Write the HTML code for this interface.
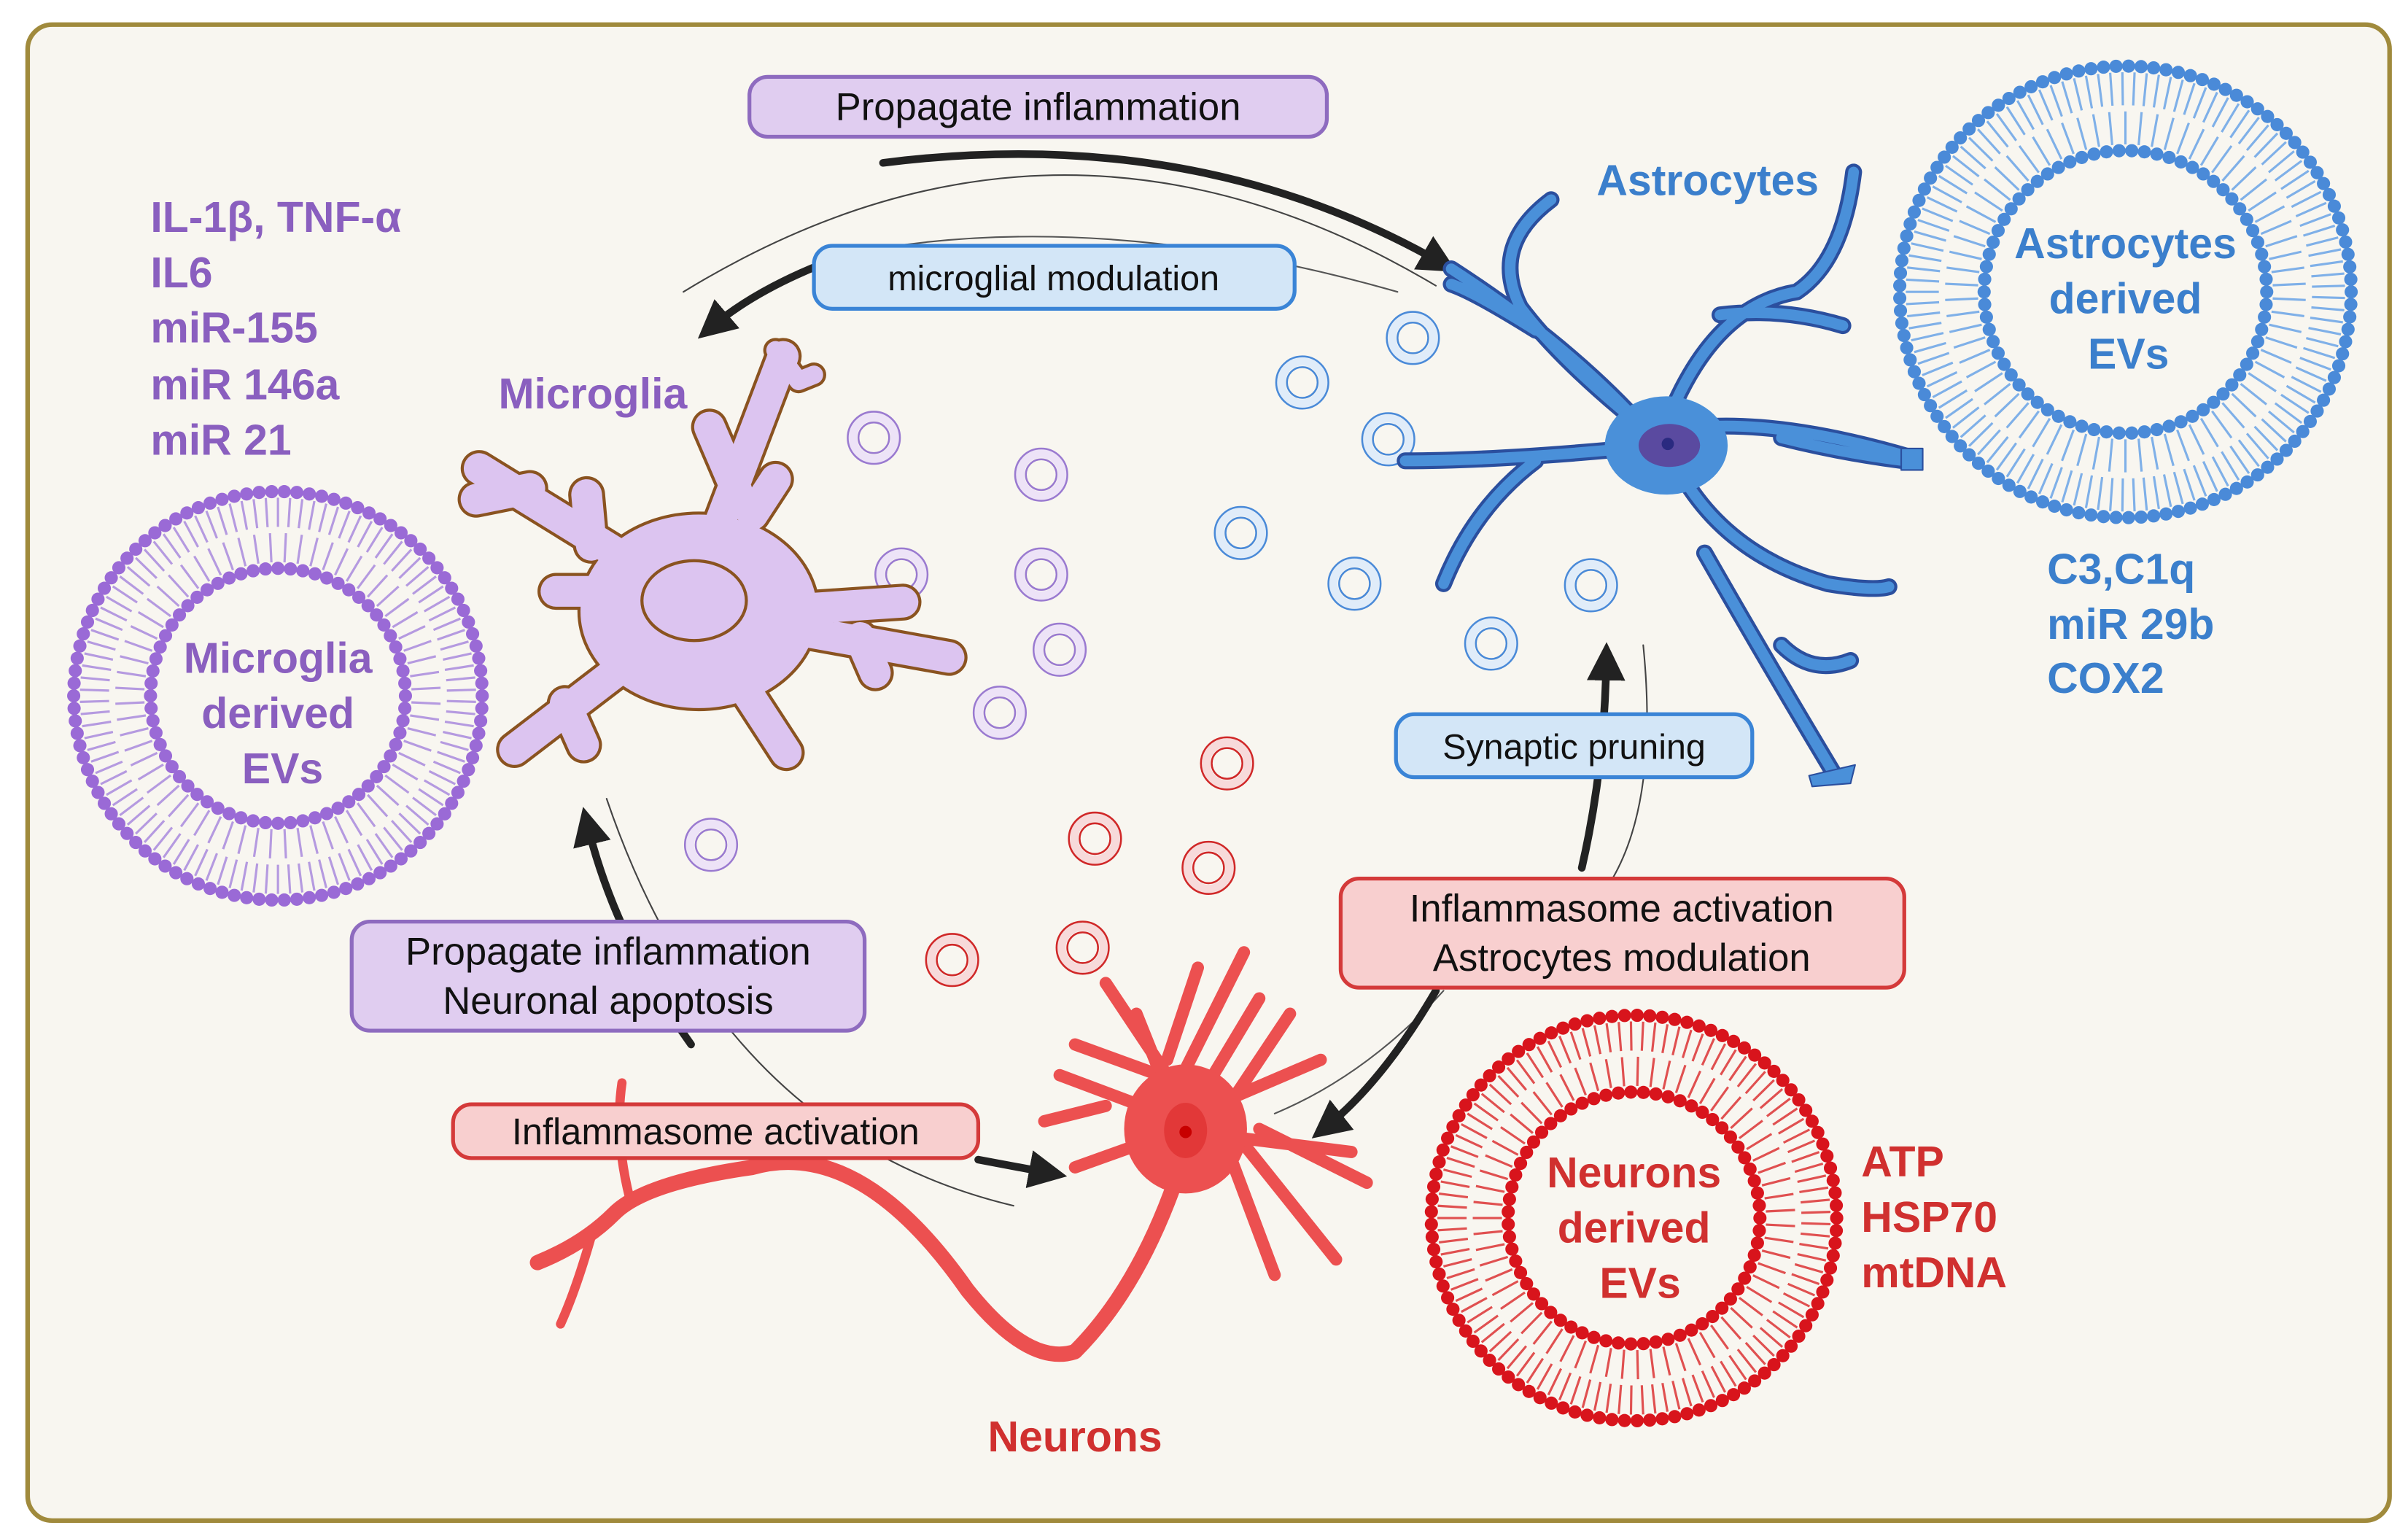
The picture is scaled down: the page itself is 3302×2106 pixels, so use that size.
<!DOCTYPE html>
<html><head><meta charset="utf-8"><style>
html,body{margin:0;padding:0;background:#fff}
svg{display:block}
text{font-family:"Liberation Sans",sans-serif}
</style></head><body>
<svg id="s" width="3302" height="2106" viewBox="0 0 1568 1000" xmlns="http://www.w3.org/2000/svg">
<defs>
<marker id="ah" viewBox="0 0 10 10" refX="6" refY="5" markerWidth="5" markerHeight="5" orient="auto" markerUnits="strokeWidth"><path d="M0,0 L10,5 L0,10 Z" fill="#222"/></marker>
</defs>
<rect x="18" y="16" width="1538" height="974" rx="16" fill="#f8f6f0" stroke="#a08a3c" stroke-width="3"/>
<g id="ves"></g>

<!-- connectors -->
<g fill="none" stroke-linecap="round">
<path d="M445,190 Q690,40 935,186" stroke="#444" stroke-width="1"/>
<path d="M575,106 Q780,80 940,172" stroke="#222" stroke-width="5" marker-end="url(#ah)"/>
<path d="M910,190 Q700,130 530,170" stroke="#555" stroke-width="1"/>
<path d="M535,172 Q490,190 462,214" stroke="#222" stroke-width="5" marker-end="url(#ah)"/>
<path d="M395,520 Q470,740 660,785" stroke="#444" stroke-width="1"/>
<path d="M450,680 Q400,610 382,535" stroke="#222" stroke-width="5" marker-end="url(#ah)"/>
<path d="M637,755 L685,764" stroke="#222" stroke-width="5" marker-end="url(#ah)"/>
<path d="M1070,420 Q1080,520 1050,572" stroke="#444" stroke-width="1"/>
<path d="M1030,565 Q1045,500 1046,428" stroke="#222" stroke-width="5" marker-end="url(#ah)"/>
<path d="M940,645 Q890,700 830,725" stroke="#555" stroke-width="1"/>
<path d="M935,645 Q900,705 862,735" stroke="#222" stroke-width="5" marker-end="url(#ah)"/>
</g>

<!-- microglia -->
<g stroke-linecap="round" stroke-linejoin="round" fill="none">
<path stroke="#8a5320" stroke-width="24" d="M450,390 L510,232 M480,320 L462,278 M490,335 L505,312 M450,390 L312,305 M345,318 L310,325 M385,355 L382,322 M420,385 L362,385 M450,400 L335,488 M368,458 L380,485 M460,410 L512,490 M470,400 L588,392 M490,405 L618,428 M560,415 L570,438"/>
<path stroke="#8a5320" stroke-width="16" d="M505,228 L520,248 L530,244"/>
<ellipse cx="455" cy="398" rx="78" ry="64" fill="#dcc4f0" stroke="#8a5320" stroke-width="2"/>
<path stroke="#dcc4f0" stroke-width="20" d="M450,390 L510,232 M480,320 L462,278 M490,335 L505,312 M450,390 L312,305 M345,318 L310,325 M385,355 L382,322 M420,385 L362,385 M450,400 L335,488 M368,458 L380,485 M460,410 L512,490 M470,400 L588,392 M490,405 L618,428 M560,415 L570,438"/>
<path stroke="#dcc4f0" stroke-width="12" d="M505,228 L520,248 L530,244"/>
<ellipse cx="455" cy="398" rx="76" ry="62" fill="#dcc4f0" stroke="none"/>
<ellipse cx="452" cy="391" rx="34" ry="26" fill="#dcc4f0" stroke="#8a5320" stroke-width="2"/>
</g>

<!-- astrocyte -->
<g stroke-linecap="round" stroke-linejoin="round" fill="none">
<path stroke="#2b4f9e" stroke-width="11" d="M1085,290 Q1020,240 990,200 Q970,160 1010,130 M1000,215 Q960,190 945,185 M1080,290 Q1030,230 945,175 M1080,290 Q980,300 915,300 M1000,300 Q960,330 940,380 M1080,290 Q1110,200 1170,190 Q1200,170 1207,112 M1120,205 Q1160,200 1200,212 M1090,280 Q1150,270 1245,298 M1160,285 Q1200,295 1240,300 M1090,300 Q1120,360 1190,380 Q1220,385 1230,382 M1110,360 Q1150,430 1195,505 M1160,420 Q1180,440 1205,430"/>
<path stroke="#4a90d9" stroke-width="7" d="M1085,290 Q1020,240 990,200 Q970,160 1010,130 M1000,215 Q960,190 945,185 M1080,290 Q1030,230 945,175 M1080,290 Q980,300 915,300 M1000,300 Q960,330 940,380 M1080,290 Q1110,200 1170,190 Q1200,170 1207,112 M1120,205 Q1160,200 1200,212 M1090,280 Q1150,270 1245,298 M1160,285 Q1200,295 1240,300 M1090,300 Q1120,360 1190,380 Q1220,385 1230,382 M1110,360 Q1150,430 1195,505 M1160,420 Q1180,440 1205,430"/>
<ellipse cx="1085" cy="290" rx="40" ry="32" fill="#4a90d9" stroke="none"/>
<ellipse cx="1087" cy="290" rx="20" ry="14" fill="#5a4aa0"/>
<circle cx="1086" cy="289" r="4" fill="#2a2a80"/>
<rect x="1238" y="292" width="14" height="14" fill="#4a90d9" stroke="#2b4f9e"/>
<path d="M1178,505 L1208,498 L1205,510 L1180,512 Z" fill="#4a90d9" stroke="#2b4f9e"/>
</g>

<!-- neuron -->
<g stroke="#ec5050" stroke-linecap="round" stroke-linejoin="round" fill="none">
<path stroke-width="10" d="M765,770 Q740,840 700,880 Q670,890 630,840 Q560,740 490,760 Q420,770 400,790 Q380,810 350,822"/>
<path stroke-width="6" d="M410,780 Q400,740 405,705 M385,805 Q375,840 365,862"/>
<path stroke-width="8" d="M770,735 L740,660 M755,700 L700,680 M760,690 L780,630 M770,700 L810,620 M790,700 L820,650 M770,730 L690,700 M720,720 L680,730 M770,735 L700,760 M790,720 L860,690 M800,740 L880,750 M800,750 L830,830 M810,745 L870,820 M820,735 L890,770 M760,700 L720,640 M800,720 L840,660"/>
<ellipse cx="772" cy="735" rx="40" ry="42" fill="#ec5050" stroke="none"/>
<ellipse cx="772" cy="736" rx="14" ry="18" fill="#e23838" stroke="none"/>
<circle cx="772" cy="737" r="4" fill="#c80000" stroke="none"/>
</g>

<!-- label boxes -->
<g font-size="25" text-anchor="middle" fill="#111">
<rect x="488" y="50" width="376" height="39" rx="12" fill="#e0cdf0" stroke="#8e6bbf" stroke-width="2.5"/>
<text x="676" y="78">Propagate inflammation</text>
<rect x="530" y="160" width="313" height="41" rx="12" fill="#d3e6f7" stroke="#3a84d6" stroke-width="2.5"/>
<text x="686" y="189" font-size="23">microglial modulation</text>
<rect x="909" y="465" width="232" height="41" rx="12" fill="#d3e6f7" stroke="#3a84d6" stroke-width="2.5"/>
<text x="1025" y="494" font-size="23">Synaptic pruning</text>
<rect x="873" y="572" width="367" height="71" rx="12" fill="#f8cfcf" stroke="#d43a3a" stroke-width="2.5"/>
<text x="1056" y="600">Inflammasome activation</text>
<text x="1056" y="632">Astrocytes modulation</text>
<rect x="229" y="600" width="334" height="71" rx="12" fill="#e0cdf0" stroke="#8e6bbf" stroke-width="2.5"/>
<text x="396" y="628">Propagate inflammation</text>
<text x="396" y="660">Neuronal apoptosis</text>
<rect x="295" y="719" width="342" height="35" rx="12" fill="#f8cfcf" stroke="#d43a3a" stroke-width="2.5"/>
<text x="466" y="745" font-size="24">Inflammasome activation</text>
</g>

<!-- text labels -->
<g font-weight="bold" font-size="28">
<g fill="#8a5fbf">
<text x="98" y="151">IL-1β, TNF-α</text>
<text x="98" y="187">IL6</text>
<text x="98" y="223">miR-155</text>
<text x="98" y="260">miR 146a</text>
<text x="98" y="296">miR 21</text>
<text x="386" y="266" text-anchor="middle">Microglia</text>
</g>
<g fill="#3b7fcc">
<text x="1112" y="127" text-anchor="middle">Astrocytes</text>
<text x="1333" y="380">C3,C1q</text>
<text x="1333" y="416">miR 29b</text>
<text x="1333" y="451">COX2</text>
</g>
<g fill="#d0302f">
<text x="1212" y="766">ATP</text>
<text x="1212" y="802">HSP70</text>
<text x="1212" y="838">mtDNA</text>
<text x="700" y="945" text-anchor="middle">Neurons</text>
</g>
</g>
<g id="evs"></g>
<g font-weight="bold" font-size="28" text-anchor="middle">
<g fill="#8a5fbf"><text x="181" y="438">Microglia</text><text x="181" y="474">derived</text><text x="184" y="510">EVs</text></g>
<g fill="#3b7fcc"><text x="1384" y="168">Astrocytes</text><text x="1384" y="204">derived</text><text x="1386" y="240">EVs</text></g>
<g fill="#d0302f"><text x="1064" y="773">Neurons</text><text x="1064" y="809">derived</text><text x="1068" y="845">EVs</text></g>
</g>
</svg>
<script>
var NS="http://www.w3.org/2000/svg";
function el(p,t,a){var e=document.createElementNS(NS,t);for(var k in a)e.setAttribute(k,a[k]);p.appendChild(e);return e;}
var evs=document.getElementById('evs');
function membrane(cx,cy,R,r,col,tail){
  var g=el(evs,'g',{});
  var n=Math.round(2*Math.PI*R/8.2), m=Math.round(2*Math.PI*r/8.2);
  var mid=(R+r)/2, d="";
  for(var i=0;i<n;i++){var a=(i+0.5)/n*Math.PI*2;var c=Math.cos(a),s=Math.sin(a);
    d+="M"+(cx+c*(R-4))+","+(cy+s*(R-4))+"L"+(cx+c*(mid+2))+","+(cy+s*(mid+2));}
  for(var i=0;i<m;i++){var a=(i+0.5)/m*Math.PI*2;var c=Math.cos(a),s=Math.sin(a);
    d+="M"+(cx+c*(r+4))+","+(cy+s*(r+4))+"L"+(cx+c*(mid-2))+","+(cy+s*(mid-2));}
  el(g,'path',{d:d,stroke:tail,'stroke-width':1.5,fill:'none'});
  for(var i=0;i<n;i++){var a=i/n*Math.PI*2;el(g,'circle',{cx:cx+Math.cos(a)*R,cy:cy+Math.sin(a)*R,r:4.3,fill:col});}
  for(var i=0;i<m;i++){var a=i/m*Math.PI*2;el(g,'circle',{cx:cx+Math.cos(a)*r,cy:cy+Math.sin(a)*r,r:4.3,fill:col});}
}
membrane(181,453,133,83,'#9a6ad6','#b59ae0');
membrane(1384,190,147,92,'#4a8ad8','#7fb0e8');
membrane(1064,793,132,82,'#d8141c','#e05050');
var ves=document.getElementById('ves');
function small(list,col,fill){list.forEach(function(p){
  el(ves,'circle',{cx:p[0],cy:p[1],r:14,fill:'none',stroke:fill,'stroke-width':6});
  el(ves,'circle',{cx:p[0],cy:p[1],r:17,fill:'none',stroke:col,'stroke-width':1.2});
  el(ves,'circle',{cx:p[0],cy:p[1],r:10,fill:'#f8f6f0',stroke:col,'stroke-width':1.2});
});}
small([[569,285],[678,309],[587,374],[678,374],[690,423],[651,464],[463,550]],'#9a7ad0','#ede3f7');
small([[920,220],[848,249],[904,286],[808,347],[882,380],[971,419],[1036,381]],'#4a8ad8','#e0ecf9');
small([[799,497],[713,546],[787,565],[620,625],[705,617]],'#d02828','#f7dada');
</script>
</body></html>
